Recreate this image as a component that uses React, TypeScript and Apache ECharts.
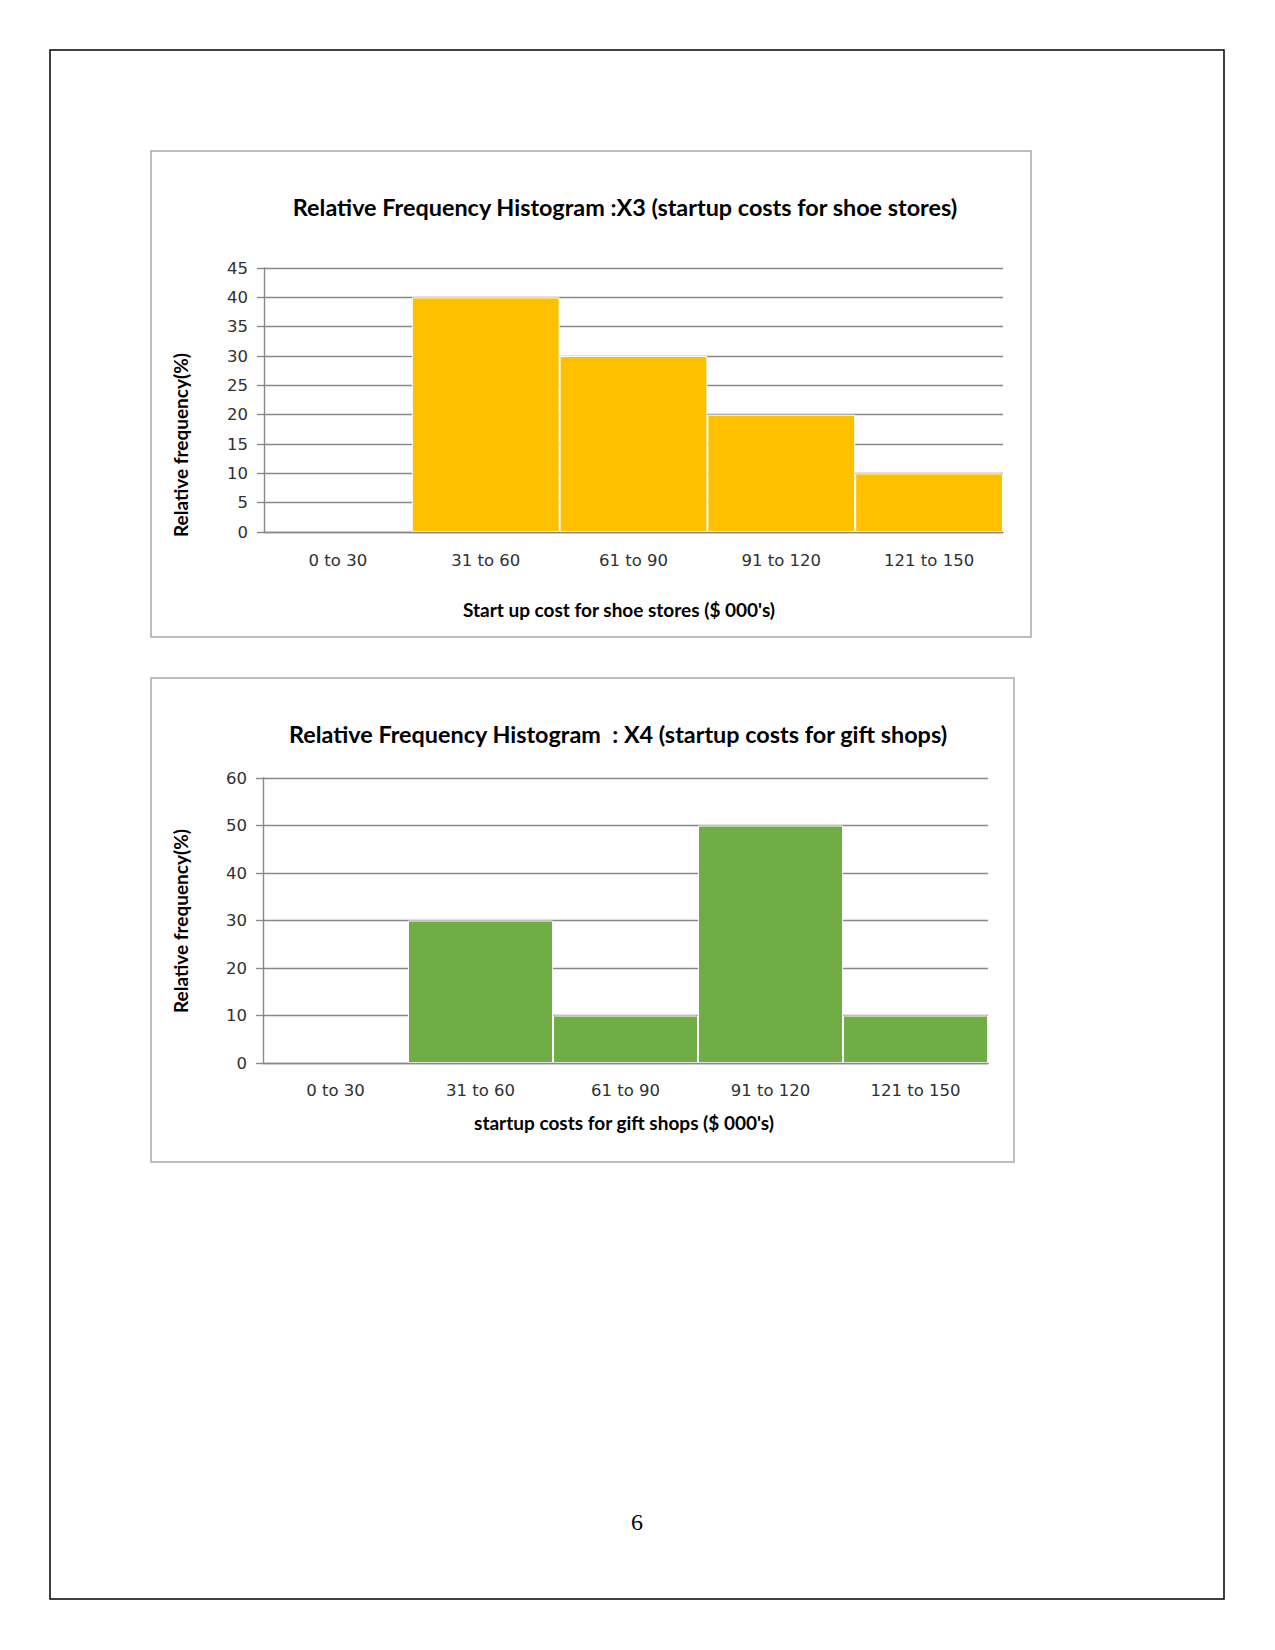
import React, { useEffect, useRef } from "react";
import * as echarts from "echarts";

const categories = ["0 to 30", "31 to 60", "61 to 90", "91 to 120", "121 to 150"];
const shoeValues = [0, 40, 30, 20, 10];
const giftValues = [0, 30, 10, 50, 10];

const shoeTitle = "Relative Frequency Histogram :X3 (startup costs for shoe stores)";
const giftTitle = "Relative Frequency Histogram  : X4 (startup costs for gift shops)";
const shoeXName = "Start up cost for shoe stores ($ 000's)";
const giftXName = "startup costs for gift shops ($ 000's)";
const yName = "Relative frequency(%)";
const pageNumber = "6";

const GRID_COLOR = "#888888";
const LABEL_COLOR = "#303030";
const TITLE_FONT = "Lato, 'Open Sans', sans-serif";
const TICK_FONT = "'DejaVu Sans', Verdana, sans-serif";

function toBarData(vals: number[]) {
  return vals.map((v) => (v === 0 ? { value: v, itemStyle: { borderWidth: 0 } } : { value: v }));
}

export default function App() {
  const ref = useRef<HTMLDivElement>(null);
  useEffect(() => {
    if (!ref.current) return;
    const chart = echarts.init(ref.current, undefined, { renderer: "svg" });

    const xAxisCommon = {
      type: "category" as const,
      data: categories,
      z: 3,
      axisLine: { show: true, lineStyle: { color: GRID_COLOR, width: 1.4 } },
      axisTick: { show: false },
      axisLabel: { fontSize: 16.5, color: LABEL_COLOR, fontFamily: TICK_FONT, margin: 20 },
    };
    const yAxisCommon = {
      type: "value" as const,
      min: 0,
      axisLine: { show: true, lineStyle: { color: GRID_COLOR, width: 1.4 } },
      axisTick: { show: true, length: 7, lineStyle: { color: GRID_COLOR, width: 1.4 } },
      axisLabel: { fontSize: 16.5, color: LABEL_COLOR, fontFamily: TICK_FONT, margin: 16 },
      splitLine: { show: true, lineStyle: { color: GRID_COLOR, width: 1.4 } },
    };

    const textStyle = (text: string, size: number, family: string, bold: boolean) => ({
      text,
      fontFamily: family,
      fontWeight: bold ? "bold" : "normal",
      fontSize: size,
      fill: "#000000",
      align: "center",
      verticalAlign: "middle",
    });

    chart.setOption({
      animation: false,
      backgroundColor: "#ffffff",
      grid: [
        { left: 264, top: 268, width: 739, height: 264, containLabel: false },
        { left: 263, top: 778, width: 725, height: 285, containLabel: false },
      ],
      xAxis: [
        { ...xAxisCommon, gridIndex: 0 },
        { ...xAxisCommon, gridIndex: 1, axisLabel: { ...xAxisCommon.axisLabel, margin: 19 } },
      ],
      yAxis: [
        { ...yAxisCommon, gridIndex: 0, max: 45, interval: 5 },
        { ...yAxisCommon, gridIndex: 1, max: 60, interval: 10 },
      ],
      series: [
        {
          type: "bar",
          xAxisIndex: 0,
          yAxisIndex: 0,
          data: toBarData(shoeValues),
          barCategoryGap: "0%",
          itemStyle: { color: "#FFC000", borderColor: "#ffffff", borderWidth: 1 },
        },
        {
          type: "bar",
          xAxisIndex: 1,
          yAxisIndex: 1,
          data: toBarData(giftValues),
          barCategoryGap: "0%",
          itemStyle: { color: "#70AD47", borderColor: "#ffffff", borderWidth: 1 },
        },
      ],
      graphic: [
        {
          type: "rect",
          shape: { x: 50, y: 50, width: 1174, height: 1549 },
          style: { fill: "none", stroke: "#000000", lineWidth: 1.5 },
          silent: true,
        },
        {
          type: "rect",
          shape: { x: 151, y: 151, width: 880, height: 486 },
          style: { fill: "none", stroke: "#a9a9a9", lineWidth: 1.5 },
          silent: true,
        },
        {
          type: "rect",
          shape: { x: 151, y: 678, width: 863, height: 484 },
          style: { fill: "none", stroke: "#a9a9a9", lineWidth: 1.5 },
          silent: true,
        },
        { type: "text", x: 625, y: 207, style: textStyle(shoeTitle, 23.4, TITLE_FONT, true) },
        { type: "text", x: 618, y: 734, style: textStyle(giftTitle, 23.4, TITLE_FONT, true) },
        { type: "text", x: 619, y: 609, style: textStyle(shoeXName, 19, TITLE_FONT, true) },
        { type: "text", x: 624, y: 1122, style: textStyle(giftXName, 19, TITLE_FONT, true) },
        {
          type: "text",
          x: 180,
          y: 445,
          rotation: Math.PI / 2,
          style: textStyle(yName, 19, TITLE_FONT, true),
        },
        {
          type: "text",
          x: 180,
          y: 921,
          rotation: Math.PI / 2,
          style: textStyle(yName, 19, TITLE_FONT, true),
        },
        {
          type: "text",
          x: 637,
          y: 1522,
          style: textStyle(pageNumber, 24, "'Liberation Serif', 'DejaVu Serif', serif", false),
        },
      ],
    });

    return () => {
      chart.dispose();
    };
  }, []);

  return (
    <div
      ref={ref}
      style={{ position: "absolute", left: 0, top: 0, width: 1275, height: 1650, background: "#ffffff" }}
    />
  );
}
